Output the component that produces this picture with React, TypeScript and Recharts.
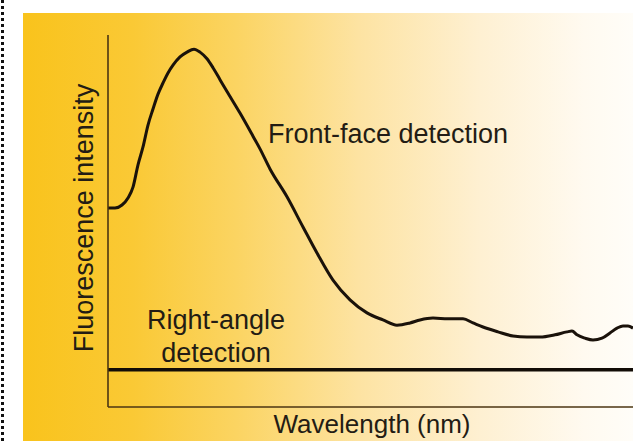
import { LineChart, Line, XAxis, YAxis } from 'recharts'

// front-face emission spectrum (arbitrary units)
const wavelengths = [
  300, 302.8, 305.6, 308, 310, 312, 314, 316, 318, 320, 322, 324, 326, 328.8, 331.6, 334.4,
  336.8, 339.6, 342, 344.8, 347.6, 352.8, 358, 360.8, 364.8, 371.6, 378, 383.6, 390, 396.8,
  403.6, 410, 415.6, 420.8, 424.8, 430, 436, 442, 446, 450, 456, 462, 467.6, 472.8, 478.8,
  483.6, 485.6, 487.6, 490.8, 494, 497.6, 500.8, 503.6, 506, 508, 510,
]
const frontFace = [
  53.5, 53.5, 54.3, 56.2, 59.1, 65.1, 69.9, 75.8, 80.1, 84.1, 87.1, 89.8, 91.9, 94.1, 95.4, 96.2,
  95.4, 93.6, 91.2, 88.0, 84.8, 79.0, 72.8, 69.4, 64.0, 56.5, 48.4, 41.4, 34.1, 28.8,
  25.3, 23.4, 22.0, 22.6, 23.4, 23.9, 23.7, 23.7, 22.6, 21.5, 20.2, 19.1, 18.8, 18.8, 19.4,
  20.2, 20.4, 19.4, 18.5, 18.0, 18.5, 19.9, 21.2, 21.8, 21.8, 21.2,
]
const rightAngleWavelengths = [300, 510]
const rightAngle = [10, 10]

const frontData = wavelengths.map((wl, i) => ({ wl, v: frontFace[i] }))
const rightData = rightAngleWavelengths.map((wl, i) => ({ wl, v: rightAngle[i] }))

const FONT = '"Liberation Sans", Arial, Helvetica, sans-serif'
const TEXT = '#231c14'
const AXIS = '#4b3512'

export default function App() {
  return (
    <div style={{ position: 'absolute', left: 0, top: 0, width: 633, height: 441, background: '#ffffff', overflow: 'hidden' }}>
      <div
        style={{
          position: 'absolute',
          left: 23,
          top: 13,
          right: 0,
          bottom: 0,
          background:
            'linear-gradient(to right, #f9c31c 0%, #fac935 18%, #fbd462 35%, #fde3a2 55%, #fef0d2 75%, #fffaf0 92%, #fffdf8 100%)',
        }}
      />
      <div style={{ position: 'absolute', left: 1, top: 0, height: 441, borderLeft: '3px dotted #111' }} />
      <div style={{ position: 'absolute', left: 0, top: 0 }}>
        <LineChart width={633} height={441} margin={{ top: 35, right: 0, left: 0, bottom: 0 }}>
          <XAxis
            type="number"
            dataKey="wl"
            domain={[300, 510]}
            tick={false}
            tickLine={false}
            height={34}
            axisLine={{ stroke: AXIS, strokeWidth: 1.6 }}
          />
          <YAxis
            type="number"
            domain={[0, 100]}
            tick={false}
            tickLine={false}
            width={108}
            axisLine={{ stroke: AXIS, strokeWidth: 1.6 }}
          />
          <Line
            data={rightData}
            dataKey="v"
            type="linear"
            stroke="#120c06"
            strokeWidth={3.5}
            dot={false}
            isAnimationActive={false}
          />
          <Line
            data={frontData}
            dataKey="v"
            type="monotone"
            stroke="#1a120a"
            strokeWidth={3}
            dot={false}
            isAnimationActive={false}
          />
          <text x={268} y={143} fontFamily={FONT} fontSize={27} fill={TEXT}>
            Front-face detection
          </text>
          <text x={216} y={329} fontFamily={FONT} fontSize={27} fill={TEXT} textAnchor="middle">
            Right-angle
          </text>
          <text x={216} y={362} fontFamily={FONT} fontSize={27} fill={TEXT} textAnchor="middle">
            detection
          </text>
          <text x={372} y={433} fontFamily={FONT} fontSize={26} fill={TEXT} textAnchor="middle">
            Wavelength (nm)
          </text>
          <text
            x={-218}
            y={93}
            transform="rotate(-90)"
            fontFamily={FONT}
            fontSize={27}
            fill={TEXT}
            textAnchor="middle"
          >
            Fluorescence intensity
          </text>
        </LineChart>
      </div>
    </div>
  )
}
